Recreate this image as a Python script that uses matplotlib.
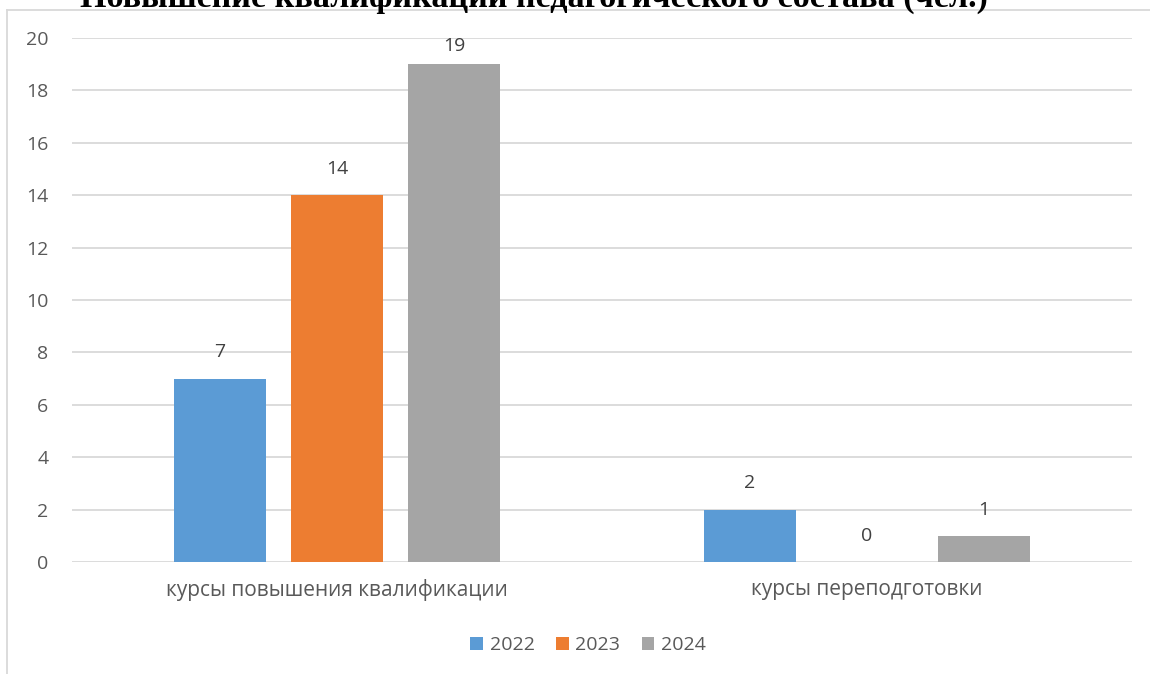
import numpy as np
import matplotlib
matplotlib.use('Agg')
import matplotlib.pyplot as plt
from matplotlib.lines import Line2D

categories = ['курсы повышения квалификации', 'курсы переподготовки']
years = ['2022', '2023', '2024']
values = {
    '2022': [7, 2],
    '2023': [14, 0],
    '2024': [19, 1],
}
colors = ['#5B9BD5', '#ED7D31', '#A5A5A5']
title = 'Повышение квалификации педагогического состава (чел.)'

plt.rcParams['font.family'] = ['Open Sans', 'DejaVu Sans']
txt_color = '#595959'
fs = 14

fig = plt.figure(figsize=(11.5, 6.74), dpi=100)
ax = fig.add_axes([72/1150, 1 - 562/674, 1060/1150, 524/674])

x = np.arange(len(categories))
width = 0.174
step = 0.221
ymax = 20
for i, (yr, c) in enumerate(zip(years, colors)):
    pos = x + (i - 1) * step
    ax.bar(pos, values[yr], width, color=c, label=yr, zorder=3)
    for p, v in zip(pos, values[yr]):
        # labels stay inside the plot area like in Excel
        ax.text(p, min(v + 1.0, ymax - 0.3), str(v), ha='center', va='center',
                fontsize=fs, color='#404040')

ax.set_xlim(-0.5, 1.5)
ax.set_ylim(0, ymax)
ax.set_yticks(range(0, ymax + 1, 2))
ax.set_xticks(x)
ax.set_xticklabels(categories)
ax.tick_params(length=0, labelsize=fs, colors=txt_color)
ax.tick_params(axis='x', pad=12, labelsize=15)
ax.tick_params(axis='y', pad=17)
ax.grid(axis='y', color='#D9D9D9', linewidth=1.3, zorder=0)
for s in ax.spines.values():
    s.set_visible(False)

# chart frame
fig.add_artist(Line2D([7/1150, 1], [1 - 10/674, 1 - 10/674], color='#D9D9D9', lw=1.3))
fig.add_artist(Line2D([7/1150, 7/1150], [0, 1 - 10/674], color='#D9D9D9', lw=1.3))

fig.text(534/1150, 1 - 7/674, title, ha='center', va='baseline',
         fontsize=24.6, fontweight='bold', family='Liberation Serif')

fig.legend(loc='center', bbox_to_anchor=(588/1150, 1 - 645/674), ncol=3, frameon=False,
           fontsize=fs, handlelength=0.65, handleheight=0.65, handletextpad=0.35,
           columnspacing=1.1, labelcolor=txt_color)

fig.savefig('out.png', dpi=100)
